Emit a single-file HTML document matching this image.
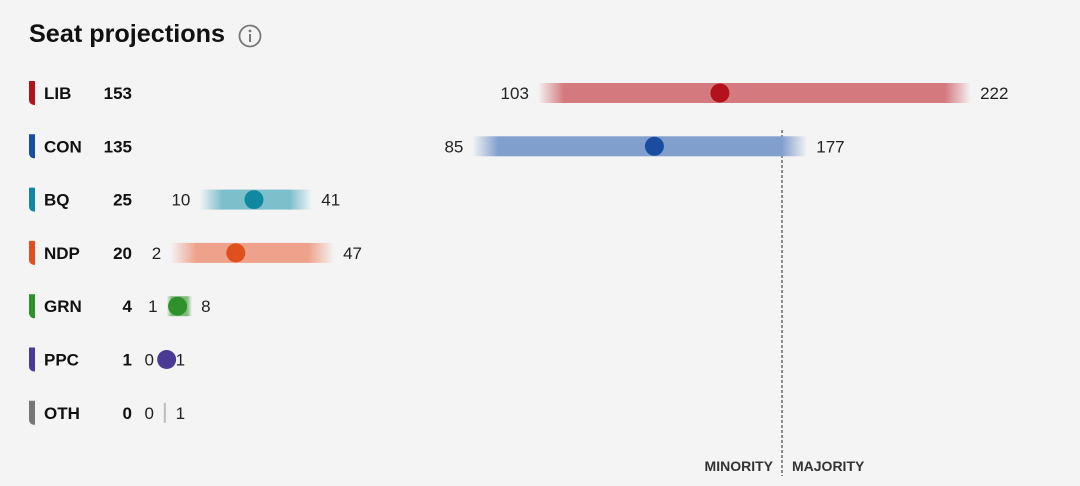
<!DOCTYPE html>
<html><head><meta charset="utf-8"><style>
html,body{margin:0;padding:0;background:#f4f4f5;}
svg{display:block;font-family:"Liberation Sans",sans-serif;}
</style></head><body>
<svg id="c" width="1080" height="486">
<defs id="defs"></defs>
<text x="29" y="42" font-size="25" font-weight="bold" fill="#111" textLength="196" lengthAdjust="spacingAndGlyphs">Seat projections</text>
<g>
<circle cx="250" cy="36" r="10.5" fill="none" stroke="#777" stroke-width="1.8"/>
<circle cx="250" cy="31" r="1.4" fill="#777"/>
<rect x="249" y="34" width="2" height="8" fill="#777"/>
</g>
<line x1="782" y1="130" x2="782" y2="476" stroke="#222" stroke-width="1" stroke-dasharray="3,2"/>
<text x="773" y="471" font-size="14" font-weight="bold" fill="#333" text-anchor="end">MINORITY</text>
<text x="792" y="471" font-size="14" font-weight="bold" fill="#333">MAJORITY</text>
<g id="rows"></g>
</svg>
<script>
const parties = ["LIB","CON","BQ","NDP","GRN","PPC","OTH"];
const projected = [153,135,25,20,4,1,0];
const lows = [103,85,10,2,1,0,0];
const highs = [222,177,41,47,8,1,1];
const dotColors = ["#b3121c","#1a4ca0","#0f88a0","#e0501e","#2f912c","#4a3a96","#777777"];
const barColors = ["#d47a7f","#809fcc","#7ebfcc","#eea28b","#7fba7b","#a59bcb","#bbbbbb"];
const x0 = 163, k = 3.64, y0 = 93, dy = 53.3;
const xs = v => x0 + v * k;
const ys = i => y0 + i * dy;
const NS = "http://www.w3.org/2000/svg";
const g = document.getElementById("rows"), defs = document.getElementById("defs");
function mk(tag, attrs, parent){const e=document.createElementNS(NS,tag);for(const a in attrs)e.setAttribute(a,attrs[a]);parent.appendChild(e);return e;}
parties.forEach((p,i)=>{
  const y = ys(i);
  const m = mk("path",{d:`M29 ${y-12} h6 v24 h-1 a5 5 0 0 1 -5 -5 z`,fill:dotColors[i]},g);
  
  
  const t = mk("text",{x:44,y:y+6,"font-size":17,"font-weight":"bold",fill:"#111"},g); t.textContent=p;
  
  
  const n = mk("text",{x:132,y:y+6,"font-size":17,"font-weight":"bold",fill:"#111","text-anchor":"end"},g); n.textContent=projected[i];
  
  
  const a = xs(lows[i]), b = xs(highs[i]);
  const w = Math.max(b-a,2);
  if (highs[i]-lows[i] > 1) {
    const gid="gr"+i;
    const lg = mk("linearGradient",{id:gid,x1:0,x2:1,y1:0,y2:0},defs);
    const f = Math.min(0.2, 26/w);
    [[0,0],[f,1],[1-f,1],[1,0]].forEach(([o,op])=>mk("stop",{offset:o,"stop-color":barColors[i],"stop-opacity":op},lg));
    const r = mk("rect",{x:a,y:y-10,width:w,height:20,fill:`url(#${gid})`},g);
    
    
  } else if (projected[i]===0) {
    const r = mk("rect",{x:(a+b)/2-1,y:y-10,width:2,height:20,fill:"#bbb"},g);
    
    
  }
  const lo = mk("text",{x:a-9,y:y+6,"font-size":17,fill:"#222","text-anchor":"end"},g); lo.textContent=lows[i];
  
  
  const hi = mk("text",{x:b+9,y:y+6,"font-size":17,fill:"#222"},g); hi.textContent=highs[i];
  
  
  if (projected[i]>0) {
    const c = mk("circle",{cx:xs(projected[i]),cy:y,r:9.5,fill:dotColors[i]},g);
    
    
  }
});
</script>
</body></html>
